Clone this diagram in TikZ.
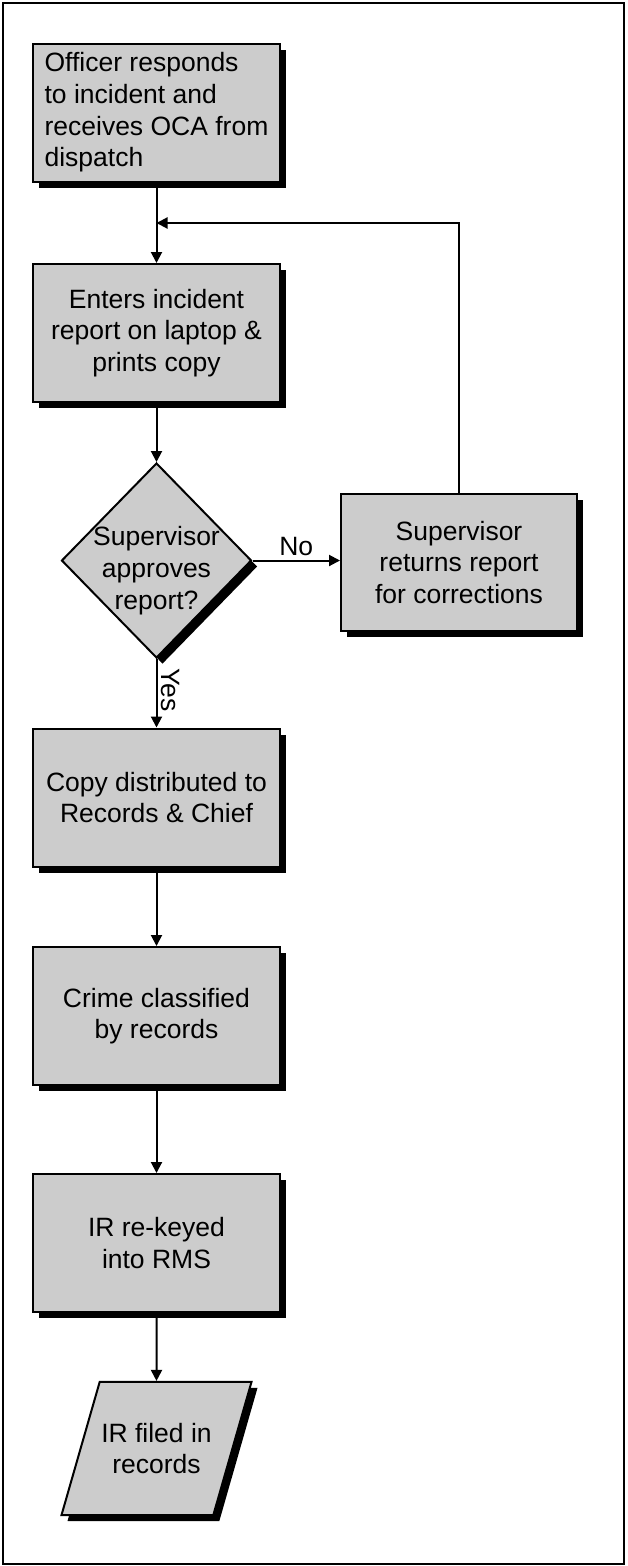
\documentclass[tikz,border=0pt]{standalone}
\usepackage{fontspec}
\setmainfont{Liberation Sans}
\usetikzlibrary{arrows.meta, shapes.geometric, shadows}

\definecolor{boxgray}{gray}{0.8}

\begin{document}
\begin{tikzpicture}[
    x=1pt, y=-1pt,
    >={Triangle[length=11pt, width=11pt]}, % Set default arrow tip style
    font=\fontsize{26.5}{31.7}\selectfont,
    shade/.style={drop shadow={shadow xshift=6pt, shadow yshift=-6pt, opacity=1, fill=black}},
    procbox/.style={draw, line width=2pt, fill=boxgray, shade, minimum width=247pt, minimum height=138pt, align=center, inner sep=0pt},
    decide/.style={draw, line width=2pt, fill=boxgray, shade, diamond, minimum width=190pt, minimum height=195pt, inner sep=0pt},
    iobox/.style={draw, line width=2pt, fill=boxgray, shade, trapezium, trapezium left angle=74, trapezium right angle=106, trapezium stretches body=true, minimum width=190pt, inner xsep=0pt, inner ysep=41pt, align=center},
    flow/.style={->, line width=2pt}
]

% Frame
\useasboundingbox (0,0) rectangle (627,1566);
\draw[line width=2pt] (2.5,3) rectangle (624,1564);

% Steps
\node[procbox, align=left] (b1) at (156.5,112.5) {Officer responds\\to incident and\\receives OCA from\\dispatch};
\node[procbox] (b2) at (156.5,333) {Enters incident\\report on laptop \&\\prints copy};
\node[decide, label={[align=center, yshift=-10pt]center:Supervisor\\approves\\report?}] (dec) at (156.5,560.5) {};
\node[procbox, minimum width=236pt, minimum height=137pt] (fb) at (459,562.5) {Supervisor\\returns report\\for corrections};
\node[procbox] (b3) at (156.5,797.5) {Copy distributed to\\Records \& Chief};
\node[procbox] (b4) at (156.5,1016) {Crime classified\\by records};
\node[procbox] (b5) at (156.5,1243) {IR re-keyed\\into RMS};
\node[iobox] (out) at (156.5,1448.5) {IR filed in\\records};

% Join point of the loop
\coordinate (merge) at (156.5,223);

% Flow lines
\draw[flow] (b1) -- (b2);
\draw[flow] (b2) -- (dec);
\draw[flow] (dec.east) -- node[above] {No} (dec.east -| fb.west);
\draw[flow] (fb.north) |- (merge);
\draw[flow] (dec) -- node[anchor=south, rotate=-90, pos=0.45] {Yes} (b3);
\draw[flow] (b3) -- (b4);
\draw[flow] (b4) -- (b5);
\draw[flow] (b5) -- (out);

\end{tikzpicture}
\end{document}
